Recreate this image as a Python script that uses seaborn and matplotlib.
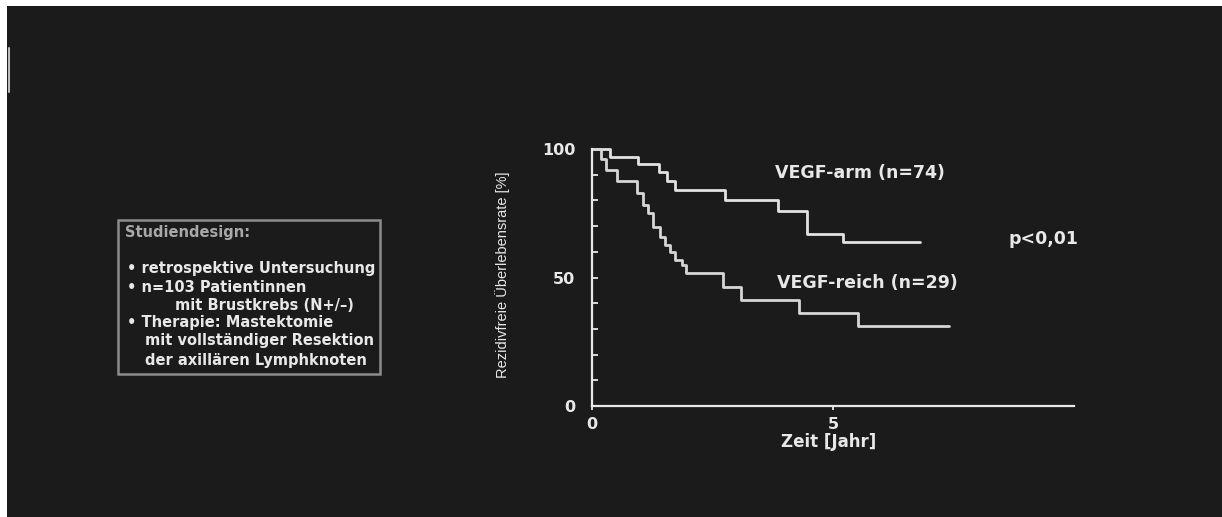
import numpy as np
import pandas as pd
import matplotlib
matplotlib.use('Agg')
import matplotlib.pyplot as plt
from matplotlib import font_manager
from matplotlib.patches import Rectangle
from matplotlib.lines import Line2D
import seaborn as sns

# Kaplan-Meier Stufen (Zeit in Jahren, rezidivfreie Rate in %)
arm_zeit = [0, 0.37, 0.96, 1.38, 1.55, 1.72, 2.76, 3.86, 4.46, 5.21, 6.8]
arm_rate = [100, 97, 94, 91, 87.5, 84, 80, 76, 67, 64, 64]

reich_zeit = [0, 0.19, 0.3, 0.51, 0.93, 1.06, 1.17, 1.27, 1.41, 1.51, 1.62,
              1.72, 1.86, 1.96, 2.72, 3.10, 4.29, 5.52, 7.41]
reich_rate = [100, 96, 92, 87.5, 82.8, 78.2, 75, 69.8, 65.9, 62.6, 60,
              56.8, 54.9, 51.6, 46.4, 41.2, 36.3, 31.1, 31.1]

gruppen = ['VEGF-arm (n=74)', 'VEGF-reich (n=29)']
y_ticks = [0, 50, 100]
x_ticks = [0, 5]

box_titel = 'Studiendesign:'
box_zeilen = ['\u2022 retrospektive Untersuchung',
              '\u2022 n=103 Patientinnen',
              'mit Brustkrebs (N+/\u2013)',
              '\u2022 Therapie: Mastektomie',
              'mit vollst\u00e4ndiger Resektion',
              'der axill\u00e4ren Lymphknoten']

df = pd.concat([
    pd.DataFrame({'zeit': arm_zeit, 'rate': arm_rate, 'gruppe': gruppen[0]}),
    pd.DataFrame({'zeit': reich_zeit, 'rate': reich_rate, 'gruppe': gruppen[1]}),
])

bg = '#1b1b1b'
fg = '#e8e8e8'
sns.set_style('dark')
plt.rcParams['font.family'] = ['DejaVu Sans']

W, H = 1222, 517
fig = plt.figure(figsize=(W / 100, H / 100), dpi=100, facecolor='white')
fig.add_artist(Rectangle((7 / W, 0), 1 - 7 / W, 1 - 6 / H, transform=fig.transFigure,
                         facecolor=bg, edgecolor='none', zorder=-10))
fig.add_artist(Line2D([8.5 / W, 8.5 / W], [1 - 48 / H, 1 - 92 / H], transform=fig.transFigure,
                      color='#bbbbbb', lw=1.5))

ax = fig.add_axes([592 / W, (H - 406) / H, 482 / W, 257 / H])
ax.set_facecolor(bg)

sns.lineplot(data=df, x='zeit', y='rate', hue='gruppe', drawstyle='steps-post',
             estimator=None, palette=['#e2e2e2', '#d6d6d6'], linewidth=2.0,
             legend=False, ax=ax)
for ln in ax.lines:
    ln.set_clip_on(False)

ax.set_xlim(0, 10)
ax.set_ylim(0, 100)
ax.grid(False)
for s in ['top', 'right']:
    ax.spines[s].set_visible(False)
for s in ['left', 'bottom']:
    ax.spines[s].set_color(fg)
    ax.spines[s].set_linewidth(1.6)

ax.set_yticks(y_ticks)
ax.set_yticks(np.arange(0, 101, 10), minor=True)
ax.set_xticks(x_ticks)
ax.tick_params(axis='y', which='both', direction='in', length=4, width=1.3, color=fg,
               labelcolor=fg, labelsize=11.5, pad=12, left=True)
ax.tick_params(axis='x', direction='out', length=3, width=1.3, color=fg,
               labelcolor=fg, labelsize=11.5, pad=5, bottom=True)
for lab in ax.get_xticklabels() + ax.get_yticklabels():
    lab.set_fontweight('bold')

ax.set_xlabel('')
ax.set_ylabel('')

names = {f.name for f in font_manager.fontManager.ttflist}
if 'Liberation Sans Narrow' in names:
    ylab_font = dict(family=['Liberation Sans Narrow', 'DejaVu Sans'], fontsize=12)
else:
    ylab_font = dict(family=['Liberation Sans', 'DejaVu Sans'], fontsize=10.5)
fig.text(503 / W, 1 - 275 / H, 'Rezidivfreie \u00dcberlebensrate [%]', rotation=90,
         ha='center', va='center', color=fg, **ylab_font)
fig.text(829 / W, 1 - 442 / H, 'Zeit [Jahr]', ha='center', va='center', color=fg,
         fontsize=12, fontweight='bold')

# Kurvenbeschriftungen
fig.text(775 / W, 1 - 173 / H, gruppen[0], ha='left', va='center', color=fg,
         fontsize=12.5, fontweight='bold')
fig.text(777 / W, 1 - 283 / H, gruppen[1], ha='left', va='center', color=fg,
         fontsize=12.5, fontweight='bold')
fig.text(1008 / W, 1 - 239 / H, 'p<0,01', ha='left', va='center', color=fg,
         fontsize=12.5, fontweight='bold')

# Studiendesign-Box
fig.add_artist(Rectangle((118 / W, 1 - 374 / H), 262 / W, 154 / H, transform=fig.transFigure,
                         facecolor='none', edgecolor='#8c8c8c', lw=1.8))
fig.text(125 / W, 1 - 233 / H, box_titel, ha='left', va='center', color='#a8a8a8',
         fontsize=10.5, fontweight='bold')
zeilen_x = [127, 127, 175, 127, 145, 145]
zeilen_y = [269, 287, 305, 323, 341, 360]
for txt, zx, zy in zip(box_zeilen, zeilen_x, zeilen_y):
    fig.text(zx / W, 1 - zy / H, txt, ha='left', va='center', color=fg,
             fontsize=10.5, fontweight='bold')

plt.savefig('out.png', dpi=100, facecolor=fig.get_facecolor())
plt.close()
